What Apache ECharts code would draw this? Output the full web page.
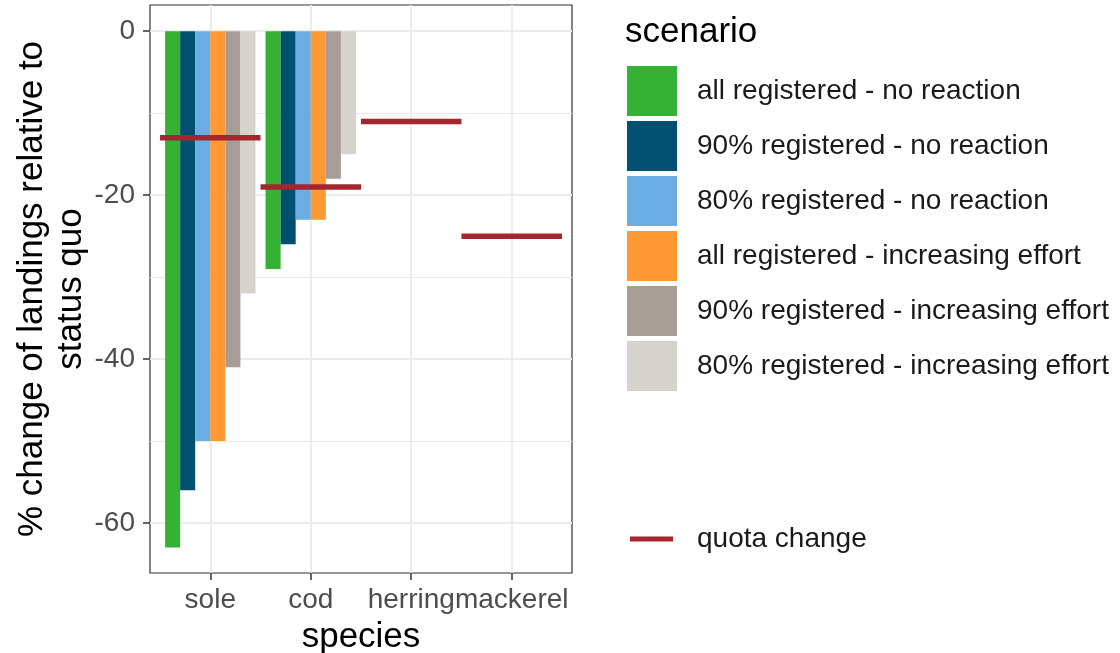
<!DOCTYPE html>
<html><head><meta charset="utf-8">
<script src="https://cdn.jsdelivr.net/npm/echarts@6/dist/echarts.min.js"></script>
<style>html,body{margin:0;padding:0;background:#fff}#c{width:1120px;height:653px}</style>
</head><body><div id="c"></div>
<script>
const species = ['sole', 'cod', 'herring', 'mackerel'];
const scenarios = [
  'all registered - no reaction',
  '90% registered - no reaction',
  '80% registered - no reaction',
  'all registered - increasing effort',
  '90% registered - increasing effort',
  '80% registered - increasing effort'
];
const scenarioColors = ['#35b234', '#02506f', '#6aade4', '#ff9933', '#a69d96', '#d6d3cc'];
const allNoReaction   = [-63, -29, null, null];
const p90NoReaction   = [-56, -26, null, null];
const p80NoReaction   = [-50, -23, null, null];
const allIncEffort    = [-50, -23, null, null];
const p90IncEffort    = [-41, -18, null, null];
const p80IncEffort    = [-32, -15, null, null];
const scenarioValues = [allNoReaction, p90NoReaction, p80NoReaction, allIncEffort, p90IncEffort, p80IncEffort];
const quotaChange = [-13, -19, -11, -25];
const yMajorTicks = [-60, -40, -20, 0];
const yMinorTicks = [-50, -30, -10];
const xTicks = [1, 2, 3, 4];

const FONT = '"Liberation Sans", Arial, sans-serif';
const nS = scenarios.length;
const dodge = 0.9;
const bw = dodge / nS;

const chart = echarts.init(document.getElementById('c'), null, {renderer: 'canvas'});

const barSeries = scenarios.map((name, k) => ({
  name: name,
  type: 'custom',
  xAxisIndex: 0, yAxisIndex: 0,
  itemStyle: {color: scenarioColors[k]},
  data: scenarioValues[k].map((v, i) => [i + 1, v]).filter(d => d[1] !== null),
  renderItem: function (params, api) {
    const x = api.value(0) - dodge / 2 + bw * k;
    const p0 = api.coord([x, 0]);
    const p1 = api.coord([x + bw, api.value(1)]);
    return {
      type: 'rect',
      shape: {x: p0[0], y: p0[1], width: p1[0] - p0[0], height: p1[1] - p0[1]},
      style: {fill: scenarioColors[k]}
    };
  },
  z: 3
}));

const quotaSeries = {
  name: 'quota change',
  type: 'custom',
  xAxisIndex: 0, yAxisIndex: 0,
  itemStyle: {color: '#a6262f'},
  data: quotaChange.map((v, i) => [i + 1, v]),
  renderItem: function (params, api) {
    const a = api.coord([api.value(0) - 0.5, api.value(1)]);
    const b = api.coord([api.value(0) + 0.5, api.value(1)]);
    return {
      type: 'line',
      shape: {x1: a[0], y1: a[1], x2: b[0], y2: b[1]},
      style: {stroke: '#a6262f', lineWidth: 5.5}
    };
  },
  z: 4
};

chart.setOption({
  animation: false,
  backgroundColor: '#ffffff',
  title: {
    text: 'scenario', left: 620, top: 10,
    textStyle: {fontFamily: FONT, fontSize: 35, fontWeight: 'normal', color: '#000'}
  },
  legend: [{
    data: scenarios.map(s => ({name: s, icon: 'rect'})),
    orient: 'vertical', left: 627, top: 66, padding: 0,
    itemWidth: 50, itemHeight: 50, itemGap: 5,
    selectedMode: false,
    textStyle: {fontFamily: FONT, fontSize: 28, color: '#1a1a1a', padding: [0, 0, 0, 15]}
  }, {
    data: [{name: 'quota change', icon: 'rect'}],
    orient: 'vertical', left: 630, top: 525, padding: 0,
    itemWidth: 43, itemHeight: 5, itemGap: 5,
    selectedMode: false,
    textStyle: {fontFamily: FONT, fontSize: 28, color: '#1a1a1a', padding: [0, 0, 0, 19]}
  }],
  grid: {
    left: 150, top: 5, width: 422, height: 568,
    outerBoundsMode: 'none', containLabel: false,
    show: true, borderColor: '#333333', borderWidth: 1.2, backgroundColor: 'transparent'
  },
  xAxis: [{
    type: 'value', min: 0.4, max: 4.6, position: 'bottom',
    name: 'species', nameLocation: 'middle', nameGap: 47,
    nameTextStyle: {fontFamily: FONT, fontSize: 35, color: '#000'},
    axisLine: {show: false, onZero: false},
    axisTick: {show: true, customValues: xTicks, length: 7, lineStyle: {color: '#333', width: 1.5}},
    axisLabel: {show: true, customValues: xTicks, formatter: v => species[Math.round(v) - 1] || '',
      fontFamily: FONT, fontSize: 28, color: '#4d4d4d', margin: 13},
    splitLine: {show: true, lineStyle: {color: '#ebebeb', width: 1.8}}
  }],
  yAxis: [{
    type: 'value', min: -66.1, max: 3.2,
    name: '% change of landings relative to\nstatus quo', nameLocation: 'middle', nameGap: 57, nameRotate: 90,
    nameTextStyle: {fontFamily: FONT, fontSize: 35, color: '#000', lineHeight: 39, align: 'center'},
    axisLine: {show: false, onZero: false},
    axisTick: {show: true, customValues: yMajorTicks, length: 7, lineStyle: {color: '#333', width: 1.5}},
    axisLabel: {show: true, customValues: yMajorTicks, fontFamily: FONT, fontSize: 28, color: '#4d4d4d', margin: 15},
    splitLine: {show: true, lineStyle: {color: '#ebebeb', width: 1.8}}
  }, {
    type: 'value', min: -66.1, max: 3.2, position: 'left',
    axisLine: {show: false, onZero: false},
    axisTick: {show: false, customValues: yMinorTicks},
    axisLabel: {show: false, customValues: yMinorTicks},
    splitLine: {show: true, lineStyle: {color: '#ebebeb', width: 1}}
  }],
  series: barSeries.concat([quotaSeries])
});
</script>
</body></html>
